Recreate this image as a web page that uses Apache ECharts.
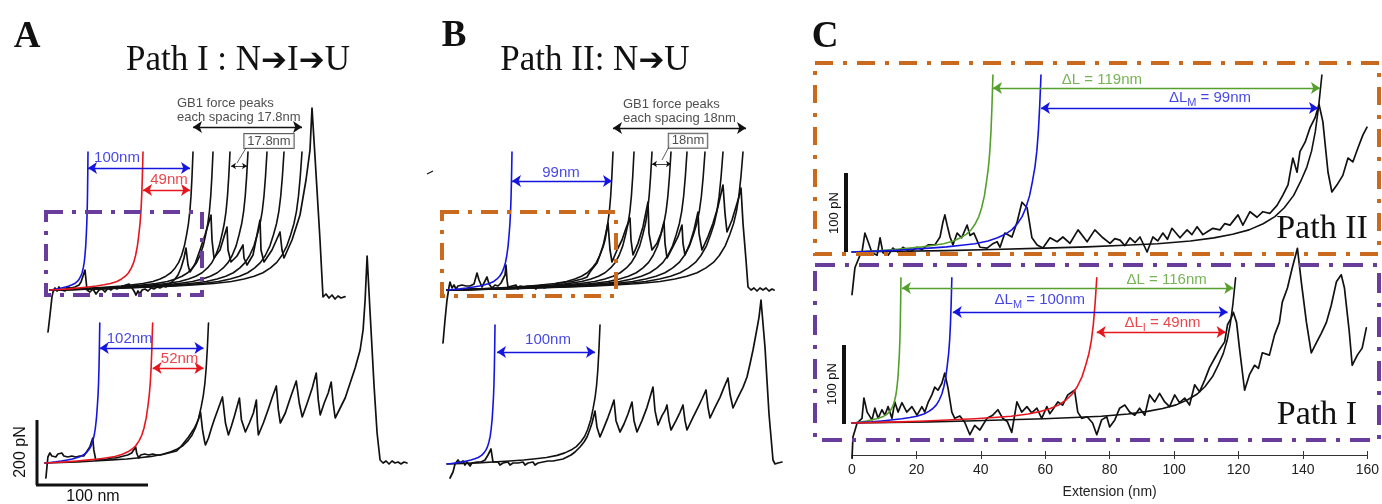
<!DOCTYPE html>
<html><head><meta charset="utf-8">
<script src="https://cdn.jsdelivr.net/npm/echarts@6/dist/echarts.min.js"></script>
<style>html,body{margin:0;padding:0;background:#fff}#c{width:1382px;height:504px}</style>
</head><body><div id="c"></div><script>
// ---------- DATA (extension in nm, force in pN) ----------
// Normalised worm-like-chain fit shape: relative extension vs relative force
const WLC_R = [0, 0.1, 0.2, 0.3, 0.41, 0.5, 0.58, 0.65, 0.72, 0.77, 0.81, 0.845, 0.875, 0.9, 0.92, 0.94, 0.955, 0.968, 0.978, 0.986, 0.993, 1.0];
const WLC_F = [0, 0.004, 0.008, 0.014, 0.022, 0.029, 0.038, 0.047, 0.062, 0.08, 0.1, 0.125, 0.16, 0.2, 0.25, 0.32, 0.4, 0.48, 0.57, 0.68, 0.82, 1.0];

// Panel A, top trace (Path I)
const A_TOP_TRACE = [[-2,-126],[0,-75],[2,-20],[3,-6],[5,6],[7,-3],[9,9],[11,0],[13,6],[15,-3],[17,9],[19,3],[21,6],[23,0],[25,9],[27,6],[29,15],[31,24],[33,42],[35,60],[36,30],[37,0],[40,-6],[43,3],[46,-12],[49,0],[52,3],[55,-6],[58,6],[61,0],[64,9],[67,3],[70,9],[73,12],[76,15],[79,18],[81,24],[82,6],[84,-3],[86,-15],[88,-3],[90,-12],[92,0],[95,3],[98,-3],[101,6],[104,3],[107,9],[110,6],[113,12],[116,9],[119,18],[122,24],[125,33],[128,45],[131,66],[134,96],[136,126],[138,75],[140,54],[145,78],[150,120],[155,165],[161,225],[162,150],[164,96],[170,120],[177,189],[178,120],[181,84],[187,102],[193,135],[194,96],[197,75],[203,105],[210,210],[211,120],[214,84],[222,120],[230,174],[232,120],[234,96],[242,150],[250,225],[256,330],[260,420],[262,546],[265,400],[270,150],[273,-21],[276,-12],[279,-24],[282,-15],[285,-27],[288,-18],[291,-24],[295,-20]];
const A_TOP_FMAX = 414;
const A_TOP_FIT_BLUE = [38];
const A_TOP_FIT_RED = [93];
const A_TOP_FIT_BLACK = [143, 163, 180, 198, 217, 234, 252];
const A_TOP_ARROWS = [[38,140,366],[93,140,300],[143,252,489]];
const A_TOP_SMALL_ARROW = [[181,197,372]];
const A_TOP_LEADER = [[187,381,196,426]];
const A_TOP_LABELS = [[67,396,'100nm'],[119,330,'49nm'],[127,540,'GB1 force peaks\neach spacing 17.8nm'],[219,447,'17.8nm']];

// Panel A, bottom trace (Path I)
const A_BOT_TRACE = [[1,-45],[3,18],[5,30],[7,21],[9,27],[11,18],[13,27],[15,24],[17,30],[19,21],[21,27],[23,18],[25,24],[27,21],[29,27],[31,18],[33,24],[35,21],[37,27],[39,21],[41,30],[43,36],[45,48],[47,66],[48,75],[49,40],[51,9],[53,3],[55,12],[57,6],[59,9],[61,3],[63,12],[65,9],[67,15],[69,9],[71,15],[73,12],[75,18],[77,12],[79,21],[81,18],[83,24],[85,21],[87,30],[89,36],[91,48],[92,30],[94,15],[96,24],[98,18],[100,27],[102,21],[104,24],[106,18],[108,27],[110,21],[112,24],[114,18],[116,24],[118,21],[120,27],[122,24],[124,30],[126,27],[128,33],[130,30],[132,36],[134,42],[136,48],[138,54],[140,63],[142,66],[144,78],[146,84],[148,96],[150,105],[152,117],[154,132],[156,153],[158,100],[160,66],[161,54],[164,75],[167,105],[170,132],[174,165],[178,198],[181,120],[184,84],[187,111],[190,141],[195,195],[197,130],[201,93],[205,120],[209,150],[212,189],[213,120],[214,84],[219,120],[224,162],[228,198],[232,231],[234,160],[236,120],[241,150],[246,195],[252,246],[255,180],[258,138],[263,180],[268,225],[272,270],[274,190],[276,144],[280,180],[284,210],[287,243],[289,180],[291,135],[296,165],[301,195],[306,240],[311,285],[316,339],[319,400],[321,489],[323,621],[326,450],[330,230],[333,90],[336,9],[339,0],[342,6],[345,-3],[348,6],[351,0],[354,3],[357,-3],[360,3],[363,0]];
const A_BOT_FMAX = 420;
const A_BOT_FIT_BLUE = [55];
const A_BOT_FIT_RED = [108];
const A_BOT_FIT_BLACK = [164];
const A_BOT_ARROWS = [[55,159,345],[108,159,285]];
const A_BOT_LABELS = [[85,372,'102nm'],[135,312,'52nm']];

// Panel B, top trace (Path II)
const B_TOP_TRACE = [[-4,-159],[-2,-90],[0,-30],[2,9],[3,24],[5,6],[7,15],[9,3],[11,12],[13,6],[15,15],[17,9],[19,12],[21,6],[23,12],[25,9],[27,18],[30,51],[32,30],[35,9],[37,21],[40,39],[42,18],[45,6],[48,15],[51,12],[54,21],[56,24],[58,45],[59,75],[60,30],[61,9],[63,3],[65,12],[67,6],[69,15],[71,3],[73,12],[75,6],[77,9],[79,3],[81,12],[83,6],[85,12],[87,9],[89,3],[91,12],[93,9],[95,15],[97,6],[99,12],[101,9],[103,15],[105,9],[107,15],[109,12],[111,21],[113,15],[115,21],[117,15],[119,24],[121,18],[123,24],[125,21],[127,27],[129,21],[131,30],[133,27],[135,33],[137,30],[140,39],[143,54],[146,66],[150,81],[153,105],[156,129],[158,150],[161,201],[163,120],[165,84],[170,120],[175,150],[179,185],[183,216],[184,150],[186,105],[191,140],[196,190],[201,264],[202,170],[205,120],[210,140],[214,170],[217,204],[218,140],[220,96],[226,130],[231,160],[235,195],[236,140],[238,105],[243,140],[247,180],[251,234],[252,170],[255,120],[261,160],[266,200],[271,250],[276,315],[278,230],[280,174],[285,210],[289,250],[292,280],[294,306],[296,200],[299,90],[301,9],[304,0],[307,6],[310,-3],[313,6],[316,0],[319,6],[322,-3],[325,3],[327,0]];
const B_TOP_FMAX = 414;
const B_TOP_FIT_BLUE = [65];
const B_TOP_FIT_BLACK = [166, 187, 205, 224, 240, 258, 276, 296];
const B_TOP_ARROWS = [[65,165,327],[166,299,486]];
const B_TOP_SMALL_ARROW = [[205,224,378]];
const B_TOP_LEADER = [[215,390,224,441]];
const B_TOP_LABELS = [[114,351,'99nm'],[176,537,'GB1 force peaks\neach spacing 18nm'],[241,448,'18nm']];

// Panel B, bottom trace (Path II)
const B_BOT_TRACE = [[3,-42],[6,-24],[8,0],[11,12],[13,3],[16,9],[18,-3],[20,6],[23,-6],[25,3],[27,-3],[30,6],[32,0],[34,6],[36,3],[38,12],[41,27],[44,45],[45,25],[46,6],[48,0],[51,6],[53,-3],[56,3],[58,0],[61,6],[63,-3],[66,3],[68,-3],[71,3],[73,0],[76,6],[78,-3],[81,3],[83,0],[86,6],[88,-3],[91,3],[93,0],[96,6],[98,3],[101,9],[103,3],[106,9],[108,6],[111,12],[113,9],[116,15],[118,15],[120,21],[124,27],[128,36],[133,51],[137,66],[140,81],[143,105],[145,123],[148,159],[150,110],[153,81],[157,110],[161,140],[164,165],[167,192],[169,130],[173,96],[177,120],[181,150],[185,186],[187,130],[190,96],[195,130],[200,170],[203,200],[206,231],[208,160],[211,117],[215,145],[218,160],[220,177],[222,130],[224,102],[229,130],[233,155],[236,177],[238,130],[240,102],[246,140],[251,170],[255,195],[259,222],[261,170],[263,138],[268,170],[273,200],[277,230],[281,258],[283,210],[286,168],[291,200],[296,230],[300,261],[303,300],[306,342],[309,390],[312,440],[314,492],[318,350],[322,150],[326,12],[328,0],[331,3],[333,-3],[335,6]];
const B_BOT_FMAX = 417;
const B_BOT_FIT_BLUE = [48];
const B_BOT_FIT_BLACK = [153];
const B_BOT_ARROWS = [[50,148,336]];
const B_BOT_LABELS = [[101,372,'100nm']];

// Panel C, Path II
const C_TOP_TRACE = [[0,-54],[0.9,-20],[2.5,-4],[3.1,0],[4,24],[5,13],[6.2,-1],[7.8,-4],[8.7,18],[9.6,-1],[11.2,-4],[12.7,5],[14.3,0],[15.8,6],[18,0],[20.2,6],[21.7,3],[23.6,9],[25.7,9],[27.3,19],[28.2,38],[28.8,47],[29.5,34],[30.4,19],[31.3,9],[32.6,24],[34,18],[35.7,34],[36.6,21],[37.8,24],[39.7,6],[41.9,5],[43.5,10],[45,13],[45.9,6],[47.4,24],[49.6,19],[51.2,38],[52.7,63],[54.3,56],[55.8,18],[57.4,9],[59.2,5],[61.4,18],[63.6,13],[65.4,19],[67.6,11],[70.1,28],[72.9,13],[75.3,28],[77.8,18],[80,11],[81.5,17],[83.1,15],[84.6,8],[86.2,18],[87.8,12],[89.3,19],[91.5,0],[93.3,19],[94.8,14],[96.4,24],[97.8,16],[99.2,30],[101.7,18],[103.9,28],[105.4,22],[107,32],[108.8,22],[110.3,26],[111.9,30],[114.1,28],[115.6,36],[117.2,34],[119.7,47],[121.2,34],[123.4,51],[125.6,44],[127.4,51],[129.6,49],[131.8,59],[133.6,72],[135.2,85],[136.7,119],[138,101],[138.9,127],[140.5,139],[142,157],[143.6,170],[144.8,187],[146,165],[147.6,101],[148.8,76],[150.4,85],[152.2,97],[153.8,119],[155.3,114],[156.9,132],[158.4,148],[159.7,158]];
const C_TOP_FMAX = 224;
const C_TOP_FIT_GREEN = [43.7];
const C_TOP_FIT_BLUE = [58.6];
const C_TOP_FIT_BLACK = [145.7];
const C_TOP_ARROWS = [[43.7,145.1,207.6],[58.6,144.5,182.3]];
const C_TOP_LABELS = [[77.5,217.7,'{a|ΔL = 119nm}'],[111,195,'{a|ΔL}{b|M}{a| = 99nm}']];

// Panel C, Path I
const C_BOT_TRACE = [[0,-45],[0.3,-18],[1.6,0],[3.1,6],[3.7,32],[4.7,14],[6.2,4],[7.1,19],[8.1,6],[9.3,17],[10.2,10],[11.2,21],[12.4,6],[13.3,27],[14.3,14],[15.5,26],[17,14],[18.6,21],[20.2,10],[21.7,21],[22.6,14],[23.6,26],[24.8,36],[25.7,46],[26.7,42],[27.9,51],[28.8,64],[29.8,45],[31,14],[31.9,6],[33.5,9],[35,1],[36.6,-15],[38.1,-3],[39.7,-9],[41.9,6],[43.7,10],[45.3,17],[46.8,6],[48.2,2],[49.6,-12],[51.2,27],[52.7,14],[54.3,21],[55.8,13],[57.4,19],[58.9,6],[60.5,21],[61.4,12],[62.3,17],[63.9,27],[65.4,23],[67,36],[69.1,42],[70.1,14],[71.3,6],[73,8],[74.7,0],[76,-15],[77.5,4],[79.1,8],[80,-5],[81.6,4],[83.1,19],[84.7,23],[86.2,14],[87.8,10],[89.3,19],[90.9,10],[92.4,36],[94,27],[95.5,38],[97.1,27],[98.6,21],[100.2,36],[101.7,26],[103.3,32],[104.8,23],[106.4,49],[107.9,40],[109.5,55],[111,71],[112.6,83],[114.1,94],[115.7,104],[116.6,126],[117.8,135],[118.4,142],[119.4,129],[120.3,96],[121.9,42],[123.4,62],[125,74],[126.2,70],[127.4,90],[129.6,87],[131.2,113],[132.7,129],[133.6,155],[135.2,173],[136.7,199],[138.3,224],[139.5,181],[141.1,129],[142.6,90],[144.2,103],[145.7,115],[147.3,129],[148.8,151],[150.4,181],[151.9,190],[152.9,173],[154.4,117],[155.3,74],[156.9,87],[158.4,96],[159.7,122]];
const C_BOT_FMAX = 186;
const C_BOT_FIT_GREEN = [15.2];
const C_BOT_FIT_BLUE = [31];
const C_BOT_FIT_RED = [76];
const C_BOT_FIT_BLACK = [119.1];
const C_BOT_ARROWS = [[15.5,118.4,173],[31.3,116.6,142.3],[76,116,116.7]];
const C_BOT_LABELS = [[97.7,183.3,'{a|ΔL = 116nm}'],[58.3,157.7,'{a|ΔL}{b|M}{a| = 100nm}'],[96.4,128.2,'{a|ΔL}{b|I}{a| = 49nm}']];

const C_X_MIN = 0, C_X_MAX = 160, C_X_STEP = 20;

// ---------- BUILD ----------
const COL = {blue:'#1515e0', red:'#e5161d', green:'#55a02c', black:'#111111', orange:'#c96a1f', purple:'#6a3c9c'};
const SANS = 'Liberation Sans, Arial, sans-serif';
const SERIF = 'Liberation Serif, Times New Roman, serif';
const grid = [], xAxis = [], yAxis = [], series = [];

function panel(ox, oy, sx, sy, xr, yr) {
  const gi = grid.length;
  grid.push({left: ox + xr[0]*sx, top: oy - yr[1]*sy, width: (xr[1]-xr[0])*sx, height: (yr[1]-yr[0])*sy});
  const xi = xAxis.length; xAxis.push({gridIndex: gi, type: 'value', min: xr[0], max: xr[1], show: false});
  const yi = yAxis.length; yAxis.push({gridIndex: gi, type: 'value', min: yr[0], max: yr[1], show: false});
  return {gi, xi, yi};
}
function line(p, data, color, width, z) {
  series.push({type: 'line', xAxisIndex: p.xi, yAxisIndex: p.yi, data, symbol: 'none', clip: false, silent: true,
    animation: false, z: z, lineStyle: {color, width, join: 'round', cap: 'round'}});
}
function fits(p, Ls, fmax, color) {
  Ls.forEach(L => line(p, WLC_R.map((r, i) => [L*r, fmax*WLC_F[i]]), color, 1.6, 3));
}
function arrows(p, list, colors, size, width) {
  series.push({type: 'line', xAxisIndex: p.xi, yAxisIndex: p.yi, data: [], silent: true, animation: false, z: 4,
    markLine: {silent: true, animation: false, symbol: ['arrow', 'arrow'], symbolSize: size || 9, precision: 4,
      label: {show: false}, emphasis: {disabled: true},
      data: list.map((a, i) => [{coord: [a[0], a[2]], lineStyle: {color: colors[i], width: width || 1.3, type: 'solid'}, itemStyle: {color: colors[i]}},
                                {coord: [a[1], a[2]]}])}});
}
function leaders(p, list) {
  series.push({type: 'line', xAxisIndex: p.xi, yAxisIndex: p.yi, data: [], silent: true, animation: false, z: 4,
    markLine: {silent: true, animation: false, symbol: ['none', 'none'], label: {show: false}, precision: 4,
      data: list.map(a => [{coord: [a[0], a[1]], lineStyle: {color: '#333', width: 0.8, type: 'solid'}}, {coord: [a[2], a[3]]}])}});
}
function texts(p, list, styles) {
  series.push({type: 'scatter', xAxisIndex: p.xi, yAxisIndex: p.yi, symbolSize: 0, silent: true, animation: false, z: 6,
    itemStyle: {color: 'transparent'},
    data: list.map((t, i) => ({value: [t[0], t[1]], label: Object.assign({show: true, position: 'inside', formatter: t[2], fontFamily: SANS}, styles[i])}))});
}
const lbl = (color, size) => ({color, fontSize: size});
const boxLbl = {color: '#222', fontSize: 13, backgroundColor: '#fff', borderColor: '#333', borderWidth: 1, padding: [1, 3, 0, 3]};
const gbLbl = {color: '#222', fontSize: 13, position: 'right', distance: 0, lineHeight: 14, align: 'left'};
const richC = c => ({rich: {a: {color: c, fontSize: 15, fontFamily: SANS}, b: {color: c, fontSize: 11, fontFamily: SANS, padding: [9, 0, 0, 0]}}});

// Panel A (1 px per nm, 3 pN per px)
const pAT = panel(50, 290, 1, 1/3, [-45, 330], [-180, 600]);
const pAB = panel(44, 463, 1, 1/3, [-45, 370], [-60, 660]);
// Panel B
const pBT = panel(447, 290, 1, 1/3, [-45, 335], [-180, 600]);
const pBB = panel(447, 464, 1, 1/3, [-45, 340], [-60, 600]);
// Panel C
const CSX = 3.225;
const pCT = panel(852, 252, CSX, 1/1.266, [C_X_MIN, C_X_MAX], [-60, 240]);
const pCB = panel(852, 423, CSX, 1/1.282, [C_X_MIN, C_X_MAX], [-(455-423)*1.282, 240]);
// visible extension axis on Path I panel
Object.assign(xAxis[pCB.xi], {show: true, interval: C_X_STEP, position: 'bottom',
  axisLine: {show: true, onZero: false, lineStyle: {color: '#333', width: 1}},
  axisTick: {show: true, length: 4, lineStyle: {color: '#333', width: 1}},
  axisLabel: {show: true, fontSize: 14, color: '#222', fontFamily: SANS, margin: 8},
  splitLine: {show: false},
  name: 'Extension (nm)', nameLocation: 'middle', nameGap: 30, nameTextStyle: {fontSize: 14, color: '#222', fontFamily: SANS}});
xAxis.push({gridIndex: pCB.gi, type: 'value', min: C_X_MIN, max: C_X_MAX, interval: C_X_STEP, position: 'bottom', show: true,
  axisLine: {show: false, onZero: false}, axisTick: {show: true, inside: true, length: 4, lineStyle: {color: '#333', width: 1}},
  axisLabel: {show: false}, splitLine: {show: false}});

// fits
fits(pAT, A_TOP_FIT_BLACK, A_TOP_FMAX, COL.black);
fits(pAT, A_TOP_FIT_BLUE, A_TOP_FMAX, COL.blue);
fits(pAT, A_TOP_FIT_RED, A_TOP_FMAX, COL.red);
fits(pAB, A_BOT_FIT_BLACK, A_BOT_FMAX, COL.black);
fits(pAB, A_BOT_FIT_BLUE, A_BOT_FMAX, COL.blue);
fits(pAB, A_BOT_FIT_RED, A_BOT_FMAX, COL.red);
fits(pBT, B_TOP_FIT_BLACK, B_TOP_FMAX, COL.black);
fits(pBT, B_TOP_FIT_BLUE, B_TOP_FMAX, COL.blue);
fits(pBB, B_BOT_FIT_BLACK, B_BOT_FMAX, COL.black);
fits(pBB, B_BOT_FIT_BLUE, B_BOT_FMAX, COL.blue);
fits(pCT, C_TOP_FIT_BLACK, C_TOP_FMAX, COL.black);
fits(pCT, C_TOP_FIT_GREEN, C_TOP_FMAX, COL.green);
fits(pCT, C_TOP_FIT_BLUE, C_TOP_FMAX, COL.blue);
fits(pCB, C_BOT_FIT_BLACK, C_BOT_FMAX, COL.black);
fits(pCB, C_BOT_FIT_GREEN, C_BOT_FMAX, COL.green);
fits(pCB, C_BOT_FIT_BLUE, C_BOT_FMAX, COL.blue);
fits(pCB, C_BOT_FIT_RED, C_BOT_FMAX, COL.red);

// traces
line(pAT, A_TOP_TRACE, COL.black, 1.7, 2);
line(pAB, A_BOT_TRACE, COL.black, 1.7, 2);
line(pBT, B_TOP_TRACE, COL.black, 1.7, 2);
line(pBB, B_BOT_TRACE, COL.black, 1.7, 2);
line(pCT, C_TOP_TRACE, COL.black, 1.7, 2);
line(pCB, C_BOT_TRACE, COL.black, 1.7, 2);

// arrows & labels
arrows(pAT, A_TOP_ARROWS, [COL.blue, COL.red, COL.black]);
arrows(pAT, A_TOP_SMALL_ARROW, [COL.black], 5, 0.8);
leaders(pAT, A_TOP_LEADER);
texts(pAT, A_TOP_LABELS, [lbl(COL.blue, 15), lbl(COL.red, 15), gbLbl, boxLbl]);
arrows(pAB, A_BOT_ARROWS, [COL.blue, COL.red]);
texts(pAB, A_BOT_LABELS, [lbl(COL.blue, 15), lbl(COL.red, 15)]);
arrows(pBT, B_TOP_ARROWS, [COL.blue, COL.black]);
arrows(pBT, B_TOP_SMALL_ARROW, [COL.black], 5, 0.8);
leaders(pBT, B_TOP_LEADER);
texts(pBT, B_TOP_LABELS, [lbl(COL.blue, 15), gbLbl, boxLbl]);
arrows(pBB, B_BOT_ARROWS, [COL.blue]);
texts(pBB, B_BOT_LABELS, [lbl(COL.blue, 15)]);
arrows(pCT, C_TOP_ARROWS, [COL.green, COL.blue]);
texts(pCT, C_TOP_LABELS, [richC(COL.green), richC(COL.blue)]);
arrows(pCB, C_BOT_ARROWS, [COL.green, COL.blue, COL.red]);
texts(pCB, C_BOT_LABELS, [richC(COL.green), richC(COL.blue), richC(COL.red)]);

// decorations
function txt(x, y, text, size, family, opts) {
  return Object.assign({type: 'text', x, y, z: 20, silent: true,
    style: Object.assign({text, fontSize: size, fontFamily: family, fill: '#111', align: 'center', verticalAlign: 'middle',
      textAlign: 'center', textVerticalAlign: 'middle'}, (opts && opts.style) || {})}, (opts && opts.el) || {});
}
function frame(x, y, w, h, color, dash) {
  return {type: 'rect', z: 15, silent: true, shape: {x, y, width: w, height: h},
    style: {fill: 'none', stroke: color, lineWidth: 4, lineDash: dash}};
}
function seg(x1, y1, x2, y2, w, color) {
  return {type: 'line', z: 15, silent: true, shape: {x1, y1, x2, y2}, style: {stroke: color || '#111', lineWidth: w}};
}
const titleRich = {s: {fontFamily: SERIF, fontSize: 35, fill: '#111', color: '#111'}, a: {fontFamily: 'DejaVu Sans', fontSize: 31, fontWeight: 'bold', fill: '#111', color: '#111', padding: [2, 0, 0, 0]}};
const graphic = [
  txt(27, 37, 'A', 37, SERIF, {style: {fontWeight: 'bold'}}),
  txt(454, 36, 'B', 37, SERIF, {style: {fontWeight: 'bold'}}),
  txt(825, 37, 'C', 37, SERIF, {style: {fontWeight: 'bold'}}),
  txt(238, 61, '{s|Path I : N}{a|➔}{s|I}{a|➔}{s|U}', 35, SERIF, {style: {rich: titleRich}}),
  txt(595, 61, '{s|Path II: N}{a|➔}{s|U}', 35, SERIF, {style: {rich: titleRich}}),
  frame(46, 212, 156, 83, COL.purple, [17, 9, 4, 9]),
  frame(442, 212, 174, 84, COL.orange, [17, 9, 4, 9]),
  frame(815, 63, 564, 191, COL.orange, [18, 10, 4, 10]),
  frame(815, 265, 564, 175, COL.purple, [20, 10, 4, 10]),
  seg(37, 420, 37, 485, 3), seg(36, 485, 148, 485, 3),
  txt(21, 452, '200 pN', 16, SANS, {el: {rotation: Math.PI/2}}),
  txt(93, 497, '100 nm', 16, SANS),
  seg(846, 173, 846, 252, 4), seg(844, 345, 844, 424, 4),
  txt(834, 213, '100 pN', 13, SANS, {el: {rotation: Math.PI/2}}),
  txt(832, 384, '100 pN', 13, SANS, {el: {rotation: Math.PI/2}}),
  txt(1322, 229, 'Path II', 34, SERIF),
  txt(1317, 415, 'Path I', 34, SERIF),
  seg(427, 174, 433, 171, 1.2)
];

const chart = echarts.init(document.getElementById('c'), null, {renderer: 'canvas'});
chart.setOption({backgroundColor: '#fff', animation: false, grid, xAxis, yAxis, series, graphic});
</script></body></html>
